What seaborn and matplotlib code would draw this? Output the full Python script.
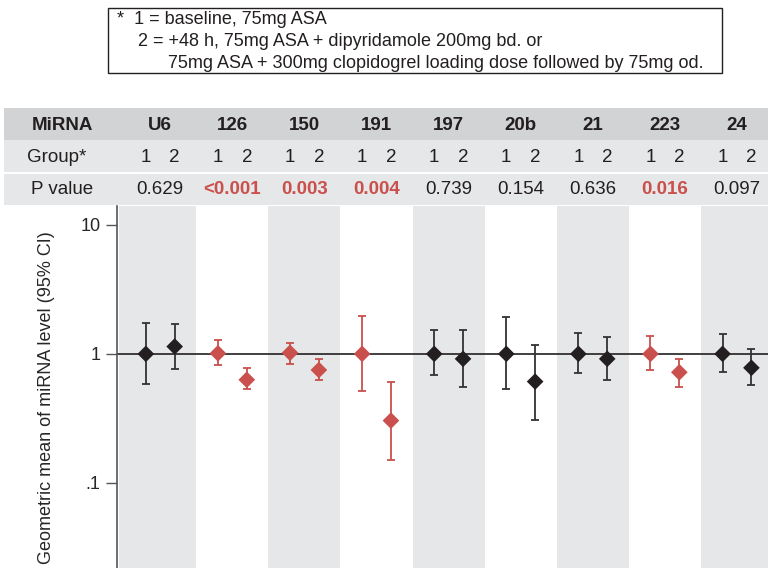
import matplotlib
matplotlib.use("Agg")
import matplotlib.pyplot as plt
from matplotlib.patches import Rectangle
import matplotlib.transforms as mtransforms
import numpy as np
import pandas as pd
import seaborn as sns

# ---- data ----
mirnas = ["U6", "126", "150", "191", "197", "20b", "21", "223", "24"]
pvalues = ["0.629", "<0.001", "0.003", "0.004", "0.739", "0.154", "0.636", "0.016", "0.097"]
significant = [False, True, True, True, False, False, False, True, False]
g1_mean = [1.00, 1.01, 1.02, 1.00, 1.00, 1.00, 1.00, 1.00, 1.00]
g1_low = [0.58, 0.82, 0.84, 0.52, 0.68, 0.53, 0.71, 0.75, 0.72]
g1_high = [1.75, 1.27, 1.21, 1.97, 1.52, 1.94, 1.46, 1.37, 1.43]
g2_mean = [1.14, 0.63, 0.75, 0.304, 0.915, 0.61, 0.915, 0.72, 0.78]
g2_low = [0.765, 0.53, 0.63, 0.15, 0.555, 0.31, 0.625, 0.555, 0.57]
g2_high = [1.71, 0.78, 0.91, 0.61, 1.52, 1.17, 1.35, 0.91, 1.10]

RED = "#c9504c"
BLACK = "#231f20"
GREY = "#e6e7e8"
DGREY = "#d1d3d4"
OFF = 0.2

sns.set_theme(style="white")
plt.rcParams["font.family"] = ["Liberation Sans", "DejaVu Sans"]

W, H = 768, 568
fig = plt.figure(figsize=(W / 100, H / 100), dpi=100)

def fx(x):
    return x / W

def fy(y):
    return 1 - y / H

ax = fig.add_axes([fx(117), 0, 1 - fx(117), fy(206)])

rows = []
for i, m in enumerate(mirnas):
    col = RED if significant[i] else BLACK
    rows.append(dict(mirna=m, pos=i - OFF, mean=g1_mean[i], lo=g1_low[i], hi=g1_high[i], color=col, group="1"))
    rows.append(dict(mirna=m, pos=i + OFF, mean=g2_mean[i], lo=g2_low[i], hi=g2_high[i], color=col, group="2"))
df = pd.DataFrame(rows)

# background bands
for i in range(len(mirnas)):
    if i % 2 == 0:
        left = -0.57 if i == 0 else i - 0.5
        ax.axvspan(left, i + 0.5, color=GREY, lw=0, zorder=0)

ax.axhline(1, color=BLACK, lw=1.2, zorder=1)

for _, r in df.iterrows():
    ecol = r["color"] if r["color"] == RED else "#333333"
    ax.errorbar(r["pos"], r["mean"], yerr=[[r["mean"] - r["lo"]], [r["hi"] - r["mean"]]],
                fmt="none", ecolor=ecol, elinewidth=1.3, capsize=3.2, capthick=1.3, zorder=2)

palette = {c: c for c in df["color"].unique()}
sns.scatterplot(data=df, x="pos", y="mean", hue="color", palette=palette, marker="D",
                s=72, edgecolor="none", legend=False, ax=ax, zorder=3)

ax.set_yscale("log")
ax.set_ylim(0.0219, 14.0)
ax.set_xlim(-0.6, 8.43)
ax.set_yticks([0.1, 1, 10])
ax.set_yticklabels([".1", "1", "10"], fontsize=13)
ax.minorticks_off()
ax.set_xticks([])
ax.set_xlabel("")
ax.set_ylabel("Geometric mean of miRNA level (95% CI)", fontsize=13)
ax.yaxis.set_label_coords(-0.095, 0.47)
ax.tick_params(axis="y", direction="out", length=8, width=1, color="#555555", left=True, pad=4)
for s in ["top", "right", "bottom"]:
    ax.spines[s].set_visible(False)
ax.spines["left"].set_color("#555555")
ax.spines["left"].set_linewidth(1.2)
ax.patch.set_alpha(0)

# ---- header table ----
fig.patches.append(Rectangle((fx(4), fy(140)), 1 - fx(4), fy(108) - fy(140), transform=fig.transFigure, color=DGREY, lw=0))
fig.patches.append(Rectangle((fx(4), fy(172)), 1 - fx(4), fy(140) - fy(172), transform=fig.transFigure, color=GREY, lw=0))
fig.patches.append(Rectangle((fx(4), fy(205)), 1 - fx(4), fy(174) - fy(205), transform=fig.transFigure, color=GREY, lw=0))

FS = 13.5
fig.text(fx(62), fy(125), "MiRNA", ha="center", va="center", fontsize=FS, fontweight="bold", color=BLACK)
fig.text(fx(57), fy(157), "Group*", ha="center", va="center", fontsize=FS, color=BLACK)
fig.text(fx(62), fy(189), "P value", ha="center", va="center", fontsize=FS, color=BLACK)

trans = mtransforms.blended_transform_factory(ax.transData, fig.transFigure)
for i, m in enumerate(mirnas):
    fig.text(i, fy(125), m, transform=trans, ha="center", va="center", fontsize=FS, fontweight="bold", color=BLACK)
    fig.text(i - OFF, fy(157), "1", transform=trans, ha="center", va="center", fontsize=FS, color=BLACK)
    fig.text(i + OFF, fy(157), "2", transform=trans, ha="center", va="center", fontsize=FS, color=BLACK)
    if significant[i]:
        fig.text(i, fy(189), pvalues[i], transform=trans, ha="center", va="center", fontsize=FS, fontweight="bold", color=RED)
    else:
        fig.text(i, fy(189), pvalues[i], transform=trans, ha="center", va="center", fontsize=FS, color=BLACK)

# ---- footnote box ----
fig.patches.append(Rectangle((fx(108), fy(73)), fx(722) - fx(108), fy(8) - fy(73), transform=fig.transFigure,
                             fill=False, edgecolor=BLACK, lw=1))
FN = 13
fig.text(fx(117), fy(19), "*  1 = baseline, 75mg ASA", ha="left", va="center", fontsize=FN, color=BLACK)
fig.text(fx(138), fy(41), "2 = +48 h, 75mg ASA + dipyridamole 200mg bd. or", ha="left", va="center", fontsize=FN, color=BLACK)
fig.text(fx(168), fy(63), "75mg ASA + 300mg clopidogrel loading dose followed by 75mg od.", ha="left", va="center", fontsize=FN, color=BLACK)

fig.savefig("out.png", dpi=100)
